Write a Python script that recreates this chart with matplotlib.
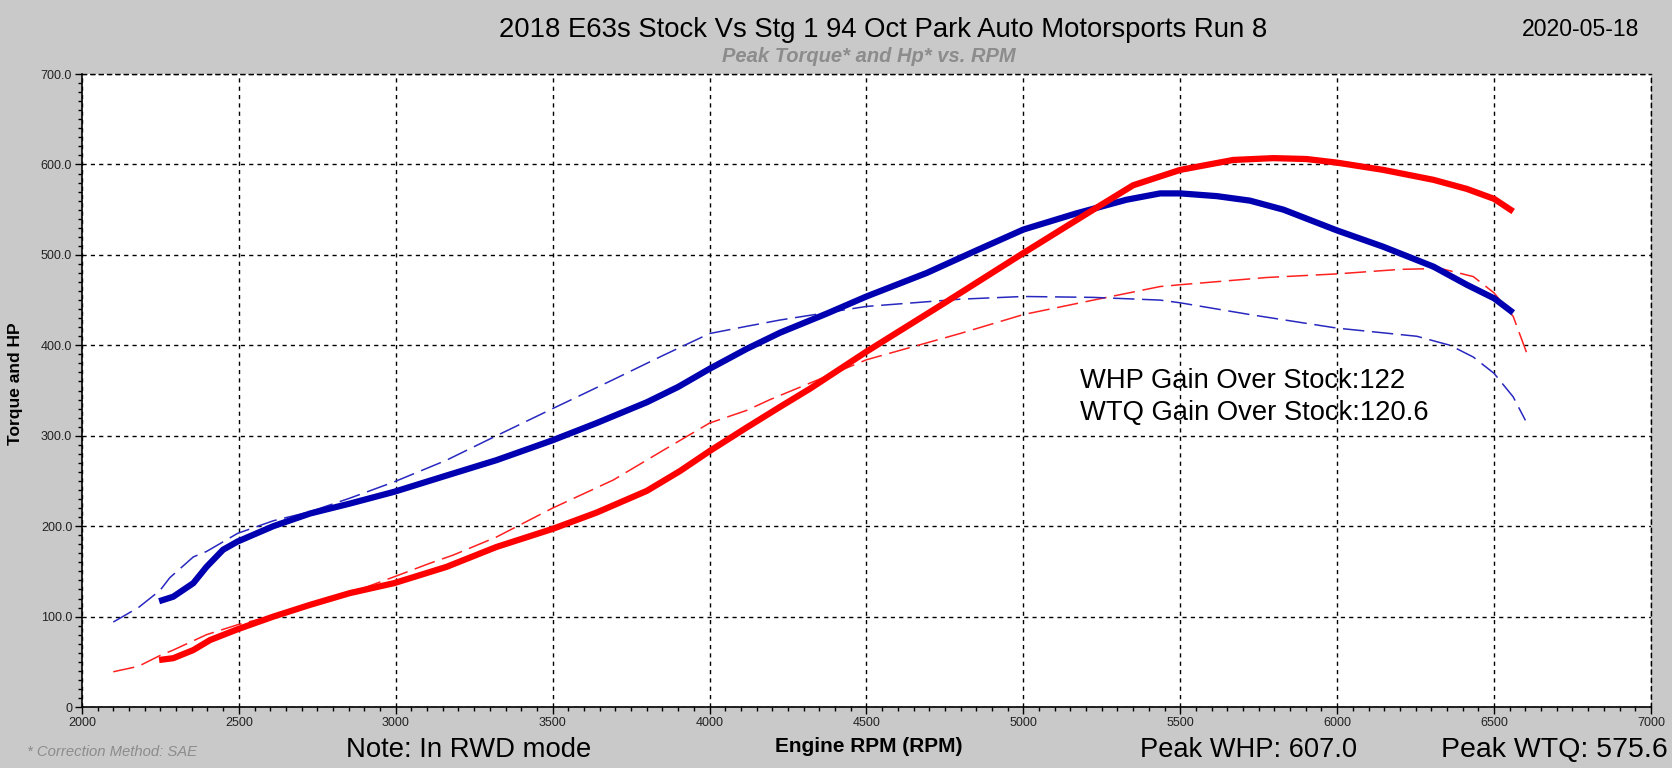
import matplotlib
matplotlib.use("Agg")
import matplotlib.pyplot as plt
from matplotlib.ticker import MultipleLocator, FuncFormatter

plt.rcParams["font.family"] = ["Liberation Sans", "DejaVu Sans"]

# Stage 1 run (thick lines)
stg1_hp_rpm = [2246, 2291, 2355, 2408, 2496, 2610, 2727, 2854, 2995, 3162, 3321, 3500, 3640,
               3800, 3906, 4000, 4118, 4225, 4320, 4500, 4745, 5000, 5223, 5350, 5500, 5669,
               5797, 5903, 6000, 6147, 6307, 6413, 6500, 6561]
stg1_hp = [52, 54, 63, 74, 86, 100, 113, 126, 137, 155, 177, 197, 215,
           239, 261, 283, 309, 332, 352, 393, 446, 502, 550, 577, 594, 605,
           607, 606, 602, 594, 583, 573, 562, 548]

stg1_tq_rpm = [2246, 2291, 2355, 2397, 2450, 2496, 2610, 2727, 2854, 2995, 3162, 3321, 3500,
               3640, 3800, 3900, 4000, 4118, 4225, 4373, 4500, 4692, 4851, 5000, 5170, 5329,
               5436, 5500, 5616, 5722, 5829, 6000, 6147, 6307, 6413, 6500, 6561]
stg1_tq = [117, 122, 137, 155, 174, 183, 200, 214, 225, 238, 256, 273, 295,
           314, 337, 354, 374, 396, 414, 435, 454, 480, 505, 528, 546, 561,
           568, 568, 565, 560, 550, 527, 509, 487, 467, 452, 436]

# Stock run (thin dashed lines)
stock_hp_rpm = [2100, 2180, 2249, 2291, 2397, 2496, 2610, 2727, 2854, 2995, 3109, 3183, 3321,
                3500, 3693, 3853, 4000, 4118, 4193, 4500, 4798, 5000, 5223, 5436, 5500, 5776,
                6000, 6201, 6329, 6434, 6500, 6561, 6609]
stock_hp = [39, 45, 57, 63, 80, 91, 101, 112, 126, 144, 159, 168, 188,
            220, 251, 284, 314, 328, 340, 384, 413, 434, 450, 465, 467, 475,
            479, 484, 485, 476, 458, 432, 387]

stock_tq_rpm = [2100, 2180, 2249, 2280, 2355, 2397, 2496, 2610, 2727, 2854, 2995, 3162, 3321,
                3500, 3693, 3853, 4000, 4118, 4225, 4500, 4798, 5000, 5223, 5436, 5500, 5722,
                6000, 6254, 6360, 6434, 6500, 6561, 6600]
stock_tq = [94, 110, 129, 143, 166, 172, 192, 206, 216, 231, 249, 273, 300,
            330, 362, 389, 413, 421, 428, 443, 451, 454, 453, 450, 447, 434,
            419, 410, 400, 387, 369, 343, 317]

title = "2018 E63s Stock Vs Stg 1 94 Oct Park Auto Motorsports Run 8"
run_date = "2020-05-18"
gain_lines = ["WHP Gain Over Stock:122", "WTQ Gain Over Stock:120.6"]
peak_whp = "Peak WHP: 607.0"
peak_wtq = "Peak WTQ: 575.6"

fig = plt.figure(figsize=(16.72, 7.68), dpi=100, facecolor="#c9c9c9")
ax = fig.add_axes([0.049, 0.0794, 0.9384, 0.8242])
ax.set_facecolor("white")

dash = (0, (14, 5))
ax.plot(stock_hp_rpm, stock_hp, color="#ff2020", linewidth=1.1, linestyle=dash)
ax.plot(stock_tq_rpm, stock_tq, color="#2828c0", linewidth=1.1, linestyle=dash)
ax.plot(stg1_tq_rpm, stg1_tq, color="#0000b0", linewidth=4.5, solid_capstyle="butt")
ax.plot(stg1_hp_rpm, stg1_hp, color="#ff0000", linewidth=4.5, solid_capstyle="butt")

ax.set_xlim(2000, 7000)
ax.set_ylim(0, 700)
ax.xaxis.set_major_locator(MultipleLocator(500))
ax.xaxis.set_minor_locator(MultipleLocator(50))
ax.yaxis.set_major_locator(MultipleLocator(100))
ax.yaxis.set_minor_locator(MultipleLocator(10))
ax.yaxis.set_major_formatter(FuncFormatter(lambda v, p: "0" if v == 0 else f"{v:.1f}"))

ax.grid(True, which="major", color="black", linestyle=(0, (3, 3)), linewidth=1.0)
for side in ("top", "right"):
    ax.spines[side].set_linestyle((0, (3, 3)))
    ax.spines[side].set_linewidth(1.0)
for side in ("left", "bottom"):
    ax.spines[side].set_linewidth(1.2)

ax.tick_params(which="major", direction="out", length=5, width=1, labelsize=9,
               labelcolor="#222222", pad=2)
ax.tick_params(which="minor", direction="out", length=3, width=1)
ax.tick_params(top=False, right=False, which="both")

ax.text(5181, 360, gain_lines[0], fontsize=19.7, va="center", ha="left")
ax.text(5181, 325, gain_lines[1], fontsize=19.7, va="center", ha="left")

fig.text(883 / 1672, 1 - 30 / 768, title, fontsize=19.8, ha="center", va="center")
fig.text(1581 / 1672, 1 - 30 / 768, run_date, fontsize=16.6, ha="center", va="center")
fig.text(869 / 1672, 1 - 56 / 768, "Peak Torque* and Hp* vs. RPM", fontsize=14.5,
         color="#8c8c8c", fontweight="bold", fontstyle="italic", ha="center", va="center")
fig.text(16 / 1672, 384 / 768, "Torque and HP", fontsize=12.5, fontweight="bold",
         rotation=90, ha="center", va="center")
fig.text(869 / 1672, 1 - 746 / 768, "Engine RPM (RPM)", fontsize=15, fontweight="bold",
         ha="center", va="center")
fig.text(469 / 1672, 1 - 750 / 768, "Note: In RWD mode", fontsize=19.8, ha="center", va="center")
fig.text(1249 / 1672, 1 - 750 / 768, peak_whp, fontsize=19.6, ha="center", va="center")
fig.text(1554 / 1672, 1 - 750 / 768, peak_wtq, fontsize=20.5, ha="center", va="center")
fig.text(27 / 1672, 1 - 752 / 768, "* Correction Method: SAE", fontsize=10.7, color="#8c8c8c",
         fontstyle="italic", ha="left", va="center")

fig.savefig("out.png", dpi=100, facecolor=fig.get_facecolor())
